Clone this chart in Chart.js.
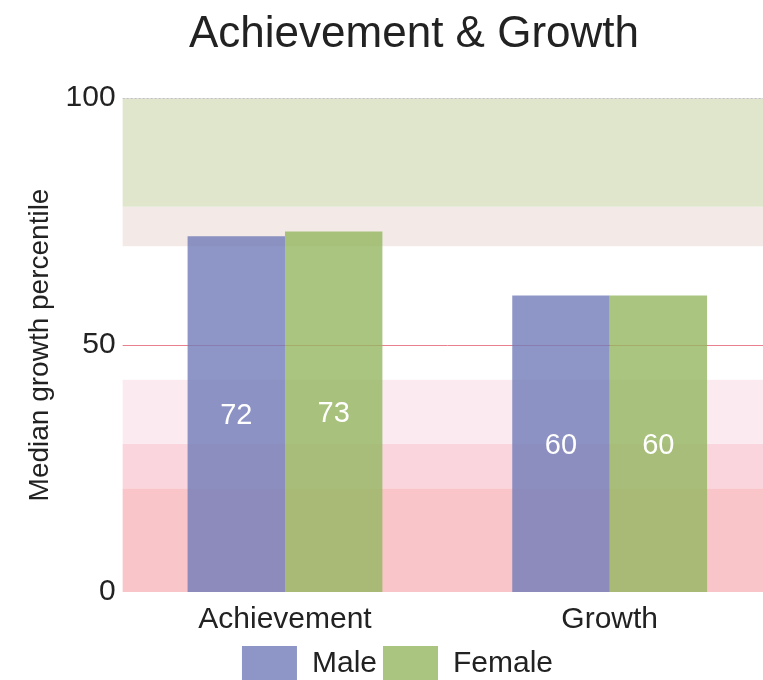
<!DOCTYPE html>
<html>
<head>
<meta charset="utf-8">
<title>Achievement & Growth</title>
<script src="https://cdn.jsdelivr.net/npm/chart.js@4/dist/chart.umd.min.js"></script>
<style>
  html, body { margin: 0; padding: 0; background: #fff; overflow: hidden; }
  #wrap { width: 763px; height: 680px; overflow: hidden; }
</style>
</head>
<body>
<div id="wrap"><canvas id="chart" width="772" height="691"></canvas></div>
<script>
// datos del gráfico
const chartTitle = 'Achievement & Growth';
const categories = ['Achievement', 'Growth'];
const maleValues = [72, 60];
const femaleValues = [73, 60];
const yTicks = [0, 50, 100];
// límites de las bandas de fondo (percentil)
const bandEdges = [0, 21, 30, 43, 70, 78, 100];

const bandColors = ['#f9c5c8', '#fbd5de', '#fbeaf0', '#ffffff', '#f3e9e6', '#dfe6cc'];
const font = '"Liberation Sans", Arial, sans-serif';

// bandas de fondo dibujadas con la escala Y
const bandsPlugin = {
  id: 'bands',
  beforeDatasetsDraw(chart) {
    const { ctx, chartArea, scales } = chart;
    ctx.save();
    for (let i = 0; i < bandEdges.length - 1; i++) {
      const yTop = scales.y.getPixelForValue(bandEdges[i + 1]);
      const yBot = scales.y.getPixelForValue(bandEdges[i]);
      ctx.fillStyle = bandColors[i];
      ctx.fillRect(chartArea.left, yTop, chartArea.right - chartArea.left, yBot - yTop);
    }
    // línea roja en 50
    const y50 = Math.round(scales.y.getPixelForValue(50));
    ctx.strokeStyle = '#e9808e';
    ctx.lineWidth = 1;
    ctx.beginPath();
    ctx.moveTo(chartArea.left, y50 + 0.5);
    ctx.lineTo(chartArea.right, y50 + 0.5);
    ctx.stroke();
    // línea tenue en 100
    const y100 = Math.round(scales.y.getPixelForValue(100));
    ctx.strokeStyle = 'rgba(190,170,215,0.7)';
    ctx.setLineDash([2, 2]);
    ctx.beginPath();
    ctx.moveTo(chartArea.left, y100 + 0.5);
    ctx.lineTo(chartArea.right, y100 + 0.5);
    ctx.stroke();
    ctx.restore();
  }
};

// etiquetas de valor centradas en cada barra
const valueLabels = {
  id: 'valueLabels',
  afterDatasetsDraw(chart) {
    const { ctx } = chart;
    ctx.save();
    ctx.fillStyle = '#ffffff';
    ctx.font = '29px ' + font;
    ctx.textAlign = 'center';
    ctx.textBaseline = 'middle';
    chart.data.datasets.forEach((ds, di) => {
      chart.getDatasetMeta(di).data.forEach((bar, i) => {
        const yMid = (bar.y + bar.base) / 2;
        ctx.fillText(String(ds.data[i]), bar.x, yMid + 2);
      });
    });
    ctx.restore();
  }
};

// título algo desplazado a la derecha, como en el original
const titlePlugin = {
  id: 'titleText',
  afterDraw(chart) {
    const { ctx } = chart;
    ctx.save();
    ctx.fillStyle = '#222';
    ctx.font = '44px ' + font;
    ctx.textAlign = 'center';
    ctx.textBaseline = 'middle';
    ctx.fillText(chartTitle, chart.width / 2 + 28, 35);
    ctx.restore();
  }
};

new Chart(document.getElementById('chart').getContext('2d'), {
  type: 'bar',
  data: {
    labels: categories,
    datasets: [
      { label: 'Male', data: maleValues, backgroundColor: 'rgba(112,124,184,0.8)', borderWidth: 0 },
      { label: 'Female', data: femaleValues, backgroundColor: 'rgba(148,182,96,0.8)', borderWidth: 0 }
    ]
  },
  options: {
    responsive: false,
    animation: false,
    layout: { padding: { left: 23, right: 0, top: 98, bottom: 0 } },
    datasets: { bar: { categoryPercentage: 0.6, barPercentage: 1.0 } },
    plugins: {
      title: { display: false },
      legend: {
        position: 'bottom',
        labels: {
          color: '#222',
          font: { family: font, size: 30 },
          boxWidth: 55,
          boxHeight: 35,
          padding: 6
        }
      },
      tooltip: { enabled: false }
    },
    scales: {
      x: {
        grid: { display: false },
        border: { display: false },
        ticks: { color: '#222', font: { family: font, size: 30 }, padding: 2 }
      },
      y: {
        min: 0,
        max: 100,
        afterBuildTicks: (axis) => { axis.ticks = yTicks.map(v => ({ value: v })); },
        grid: { display: false },
        border: { display: false },
        ticks: { color: '#222', font: { family: font, size: 30 }, padding: -1 },
        title: {
          display: true,
          text: 'Median growth percentile',
          color: '#222',
          font: { family: font, size: 28 },
          padding: { top: 0, bottom: 10 }
        }
      }
    }
  },
  plugins: [bandsPlugin, valueLabels, titlePlugin]
});
</script>
</body>
</html>
